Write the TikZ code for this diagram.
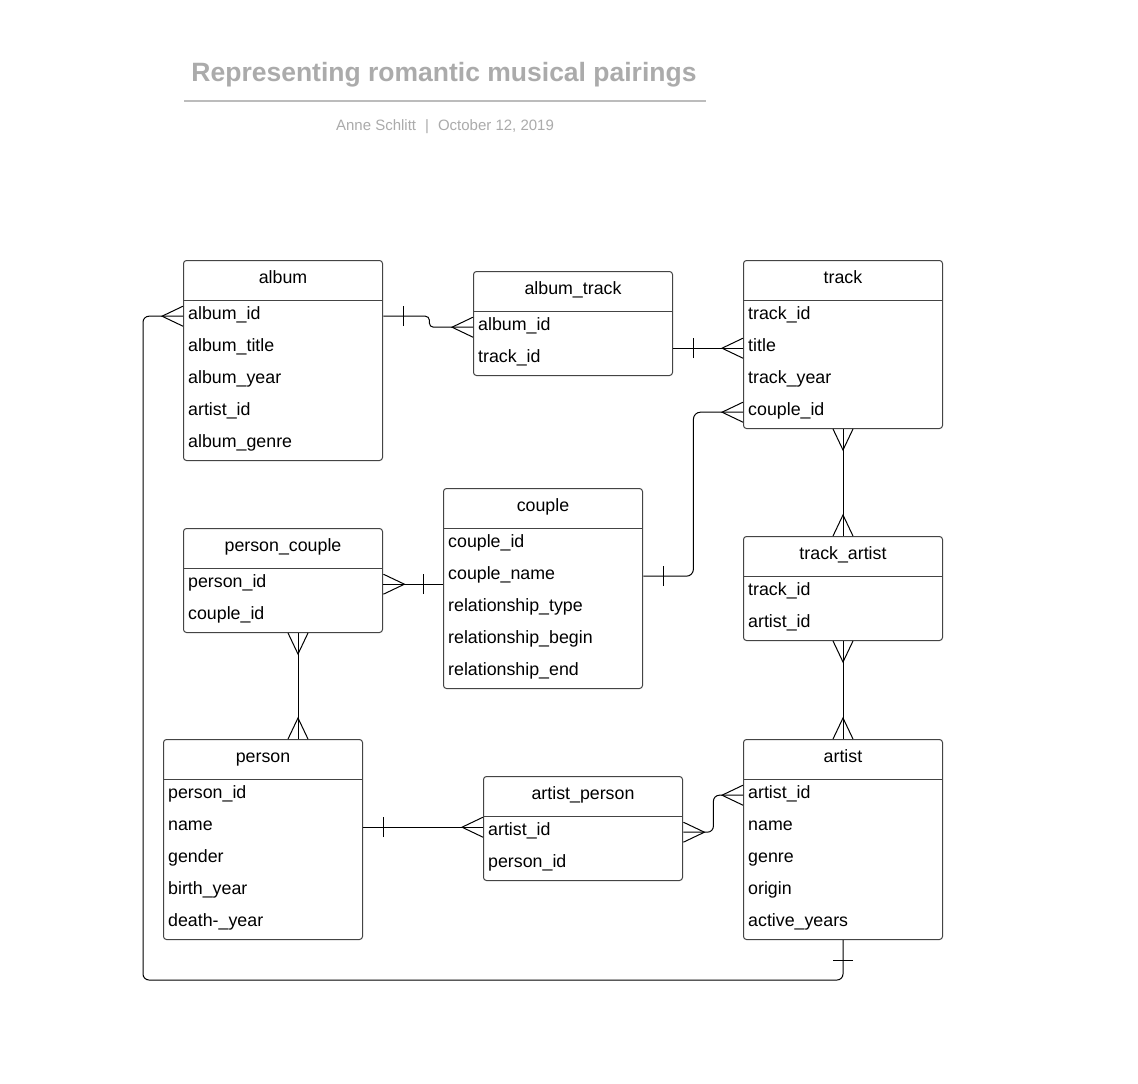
\documentclass[tikz,border=0pt]{standalone}
\usepackage{fontspec}
\setmainfont{Liberation Sans}
\usetikzlibrary{calc}
\definecolor{titlegray}{HTML}{ABABAB}
\definecolor{boxgray}{HTML}{444444}
\tikzset{
  ebox/.style={draw=boxgray, line width=1pt, rounded corners=3pt, minimum width=199pt, inner sep=0pt},
  hdrline/.style={draw=boxgray, line width=1pt},
  hdrtext/.style={font=\fontsize{17.8}{20}\selectfont, inner sep=0pt, anchor=base},
  rowtext/.style={font=\fontsize{17.8}{20}\selectfont, minimum height=32pt, text width=190pt, align=left, inner xsep=5pt, inner ysep=0pt, text height=13pt, text depth=6pt},
  conn/.style={draw=black, line width=1pt},
  titletext/.style={font=\fontsize{26.5}{30}\selectfont\bfseries, text=titlegray, inner sep=0pt},
  subtext/.style={font=\fontsize{15}{18}\selectfont, text=titlegray, inner sep=0pt},
}
\newcommand\entity[6]{%
  \pgfmathsetmacro\eh{40+32*#5}%
  \node[ebox, minimum height=\eh pt, anchor=north west] (#1) at (#2,#3) {};
  \draw[hdrline] ($(#1.north west)+(0,40)$) -- ($(#1.north east)+(0,40)$);
  \node[hdrtext] (#1-h) at ($(#1.north)+(0,23.5)$) {#4};
  \foreach \r [count=\i] in {#6} {
    \node[rowtext, anchor=north west] (#1-\i) at ($(#1.north west)+(0,{40+32*(\i-1)})$) {\r};
  }
}
% crow's foot: #1 edge point, #2 outward vector, #3 half-spread vector
\newcommand\crowfoot[3]{%
  \draw[conn] ($(#1)+(#3)$) -- ($(#1)+(#2)$) -- ($(#1)-(#3)$);
}
% one-tick: #1 edge point, #2 offset vector, #3 half-length vector
\newcommand\onetick[3]{%
  \draw[conn] ($(#1)+(#2)+(#3)$) -- ($(#1)+(#2)-(#3)$);
}
\begin{document}
\begin{tikzpicture}[x=1pt,y=-1pt]
\fill[white] (0,0) rectangle (1138,1084);
\useasboundingbox (0,0) rectangle (1138,1084);

% title
\node[titletext, anchor=base] (title) at (444,81) {Representing romantic musical pairings};
\draw[draw=titlegray!80, line width=2pt] (184,101) coordinate (tl1) -- (706,101) coordinate (tl2);
\node[subtext, anchor=base] (sub) at (445,130) {Anne Schlitt\hspace{0.6em}|\hspace{0.6em}October 12, 2019};

% entities
\entity{album}{183}{260}{album}{5}{album\_id,album\_title,album\_year,artist\_id,album\_genre}
\entity{albumtrack}{473}{271}{album\_track}{2}{album\_id,track\_id}
\entity{track}{743}{260}{track}{4}{track\_id,title,track\_year,couple\_id}
\entity{personcouple}{183}{528}{person\_couple}{2}{person\_id,couple\_id}
\entity{couple}{443}{488}{couple}{5}{couple\_id,couple\_name,relationship\_type,relationship\_begin,relationship\_end}
\entity{trackartist}{743}{536}{track\_artist}{2}{track\_id,artist\_id}
\entity{person}{163}{739}{person}{5}{person\_id,name,gender,birth\_year,death-\_year}
\entity{artistperson}{483}{776}{artist\_person}{2}{artist\_id,person\_id}
\entity{artist}{743}{739}{artist}{5}{artist\_id,name,genre,origin,active\_years}

% album -- album_track
\coordinate (k1) at ($(album-1.east)+(46,0)$);
\draw[conn, rounded corners=4pt] (album-1.east) -- (k1) -- (k1 |- albumtrack-1.west) -- (albumtrack-1.west);
\onetick{album-1.east}{20,0}{0,10}
\crowfoot{albumtrack-1.west}{-21,0}{0,10}

% album_track -- track
\coordinate (atE) at (albumtrack.east |- track-2.west);
\draw[conn] (atE) -- (track-2.west);
\onetick{atE}{20,0}{0,10}
\crowfoot{track-2.west}{-21,0}{0,10}

% couple -- track
\coordinate (k3) at ($(couple-2.east)+(50,0)$);
\draw[conn, rounded corners=7pt] (couple-2.east) -- (k3) -- (k3 |- track-4.west) -- (track-4.west);
\onetick{couple-2.east}{20,0}{0,10}
\crowfoot{track-4.west}{-21,0}{0,10}

% track -- track_artist
\draw[conn] (track.south) -- (trackartist.north);
\crowfoot{track.south}{0,21}{10,0}
\crowfoot{trackartist.north}{0,-21}{10,0}

% track_artist -- artist
\draw[conn] (trackartist.south) -- (artist.north);
\crowfoot{trackartist.south}{0,21}{10,0}
\crowfoot{artist.north}{0,-21}{10,0}

% person_couple -- couple
\coordinate (cW) at (couple.west |- personcouple-1.east);
\draw[conn] (personcouple-1.east) -- (cW);
\crowfoot{personcouple-1.east}{21,0}{0,10}
\onetick{cW}{-20,0}{0,10}

% person_couple -- person
\coordinate (pc1) at ($(personcouple.south west)+(115,0)$);
\coordinate (pc2) at (pc1 |- person.north);
\draw[conn] (pc1) -- (pc2);
\crowfoot{pc1}{0,21}{10,0}
\crowfoot{pc2}{0,-21}{10,0}

% person -- artist_person
\coordinate (apW) at (artistperson.west |- person-2.east);
\draw[conn] (person-2.east) -- (apW);
\onetick{person-2.east}{20,0}{0,10}
\crowfoot{apW}{-21,0}{0,10}

% artist_person -- artist
\coordinate (k9) at ($(artistperson-1.east)+(30,0)$);
\draw[conn, rounded corners=6pt] (artistperson-1.east) -- (k9) -- (k9 |- artist-1.west) -- (artist-1.west);
\crowfoot{artistperson-1.east}{21,0}{0,10}
\crowfoot{artist-1.west}{-21,0}{0,10}

% artist -- album
\coordinate (k10a) at ($(artist.south)+(0,40)$);
\coordinate (k10b) at ($(album-1.west)+(-40,0)$);
\draw[conn, rounded corners=6pt] (artist.south) -- (k10a) -- (k10a -| k10b) -- (k10b) -- (album-1.west);
\onetick{artist.south}{0,20}{10,0}
\crowfoot{album-1.west}{-21,0}{0,10}
\end{tikzpicture}
\end{document}
